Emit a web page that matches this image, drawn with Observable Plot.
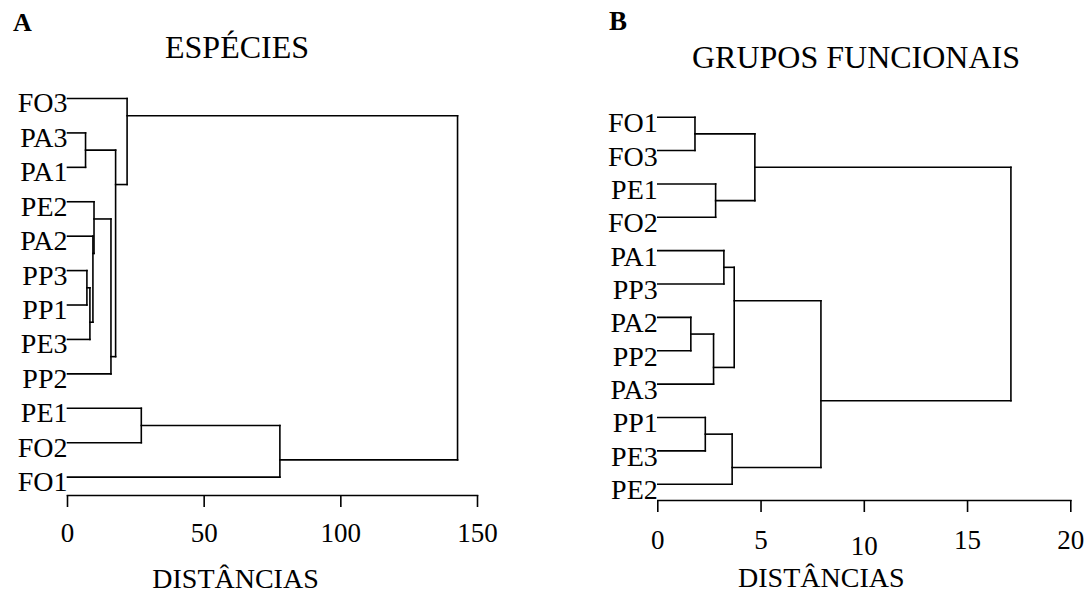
<!DOCTYPE html>
<html>
<head>
<meta charset="utf-8">
<script src="https://cdn.jsdelivr.net/npm/d3@7"></script>
<script src="https://cdn.jsdelivr.net/npm/@observablehq/plot@0.6"></script>
<style>
  html, body { margin: 0; padding: 0; background: #fff; }
  #page { position: relative; width: 1088px; height: 599px; font-family: "Liberation Serif", "Times New Roman", serif; color: #000; }
  .panel { position: absolute; top: 0; width: 544px; height: 599px; }
  .head { position: relative; height: 80px; }
  .head span { position: absolute; line-height: 1; white-space: nowrap; }
  .letter { font-weight: bold; font-size: 26px; }
  .title { font-size: 32px; transform: translateX(-50%); }
  svg { display: block; }
</style>
</head>
<body>
<div id="page">
  <div class="panel" id="panelA" style="left:0">
    <div class="head">
      <span class="letter" style="left:13px; top:10px">A</span>
      <span class="title" style="left:237px; top:31px">ESPÉCIES</span>
    </div>
  </div>
  <div class="panel" id="panelB" style="left:544px">
    <div class="head">
      <span class="letter" style="left:65px; top:8px; font-size:27px">B</span>
      <span class="title" style="left:312px; top:41px">GRUPOS FUNCIONAIS</span>
    </div>
  </div>
</div>
<script>
// Leaf order (top to bottom) and agglomeration steps: [node, left child, right child, distance]
const leavesA = ["FO3", "PA3", "PA1", "PE2", "PA2", "PP3", "PP1", "PE3", "PP2", "PE1", "FO2", "FO1"];
const mergesA = [
  ["a1", "PA3", "PA1", 6.6],
  ["a2", "PP3", "PP1", 7.1],
  ["a3", "a2", "PE3", 8.2],
  ["a4", "PA2", "a3", 9.3],
  ["a5", "PE2", "a4", 9.7],
  ["a6", "a5", "PP2", 15.9],
  ["a7", "a1", "a6", 17.6],
  ["a8", "FO3", "a7", 21.8],
  ["a9", "PE1", "FO2", 27.0],
  ["a10", "a9", "FO1", 77.7],
  ["a11", "a8", "a10", 142.7]
];
const ticksA = [0, 50, 100, 150];

const leavesB = ["FO1", "FO3", "PE1", "FO2", "PA1", "PP3", "PA2", "PP2", "PA3", "PP1", "PE3", "PE2"];
const mergesB = [
  ["b1", "FO1", "FO3", 1.8],
  ["b2", "PE1", "FO2", 2.8],
  ["b3", "b1", "b2", 4.7],
  ["b4", "PA1", "PP3", 3.2],
  ["b5", "PA2", "PP2", 1.6],
  ["b6", "b5", "PA3", 2.7],
  ["b7", "b4", "b6", 3.7],
  ["b8", "PP1", "PE3", 2.3],
  ["b9", "b8", "PE2", 3.6],
  ["b10", "b7", "b9", 7.9],
  ["b11", "b3", "b10", 17.1]
];
const ticksB = [0, 5, 10, 15, 20];

const axisTitle = "DISTÂNCIAS";

// Turn the merge list into elbow segments. Each cluster is joined at the
// boundary between its left child's last leaf and its right child's first leaf.
function dendrogram(leaves, merges) {
  const nodes = new Map();
  leaves.forEach((name, i) => nodes.set(name, {x: 0, y: i, last: i}));
  const segments = [];
  for (const [id, a, b, d] of merges) {
    const A = nodes.get(a), B = nodes.get(b);
    segments.push({x1: A.x, y1: A.y, x2: d, y2: A.y});
    segments.push({x1: B.x, y1: B.y, x2: d, y2: B.y});
    segments.push({x1: d, y1: A.y, x2: d, y2: B.y});
    nodes.set(id, {x: d, y: A.last + 0.5, last: B.last});
  }
  const labels = leaves.map((name, i) => ({name, x: 0, y: i}));
  return {segments, labels};
}

function panel({leaves, merges, ticks, marginLeft, marginRight, marginTop, marginBottom, insetBottom,
                tickSize, tickPadding, labelDy, titleDx, titleDy, extraTicks}) {
  const {segments, labels} = dendrogram(leaves, merges);
  const regular = ticks.filter(t => !(extraTicks && extraTicks.values.includes(t)));
  const marks = [
    Plot.frame({anchor: "bottom", stroke: "black", strokeWidth: 1.6}),
    Plot.axisX(regular, {tickSize, tickPadding, fontSize: 27, strokeWidth: 1.6, tickFormat: d => String(d), label: null}),
    Plot.link(segments, {x1: "x1", y1: "y1", x2: "x2", y2: "y2", stroke: "black", strokeWidth: 1.6, strokeLinecap: "square"}),
    Plot.text(labels, {x: "x", y: "y", text: "name", textAnchor: "end", fontSize: 28, dy: labelDy, fill: "black"}),
    Plot.text([axisTitle], {frameAnchor: "bottom", text: d => d, dx: titleDx, dy: titleDy, fontSize: 28, fill: "black"})
  ];
  if (extraTicks) {
    marks.push(Plot.axisX(extraTicks.values, {tickSize, tickPadding: extraTicks.tickPadding, fontSize: 27, strokeWidth: 1.6, tickFormat: d => String(d), label: null}));
  }
  return Plot.plot({
    width: 544,
    height: 519,
    marginTop, marginBottom, marginLeft, marginRight,
    insetBottom,
    x: {domain: [ticks[0], ticks[ticks.length - 1]]},
    y: {domain: [0, leaves.length - 1], reverse: true, axis: null},
    style: {fontFamily: "'Liberation Serif', 'Times New Roman', serif", color: "black", background: "white", overflow: "visible"},
    marks
  });
}

document.getElementById("panelA").append(panel({
  leaves: leavesA, merges: mergesA, ticks: ticksA,
  marginLeft: 67, marginRight: 67, marginTop: 18, marginBottom: 104, insetBottom: 18.4,
  tickSize: 12, tickPadding: 15, labelDy: 5, titleDx: -37, titleDy: 92
}));

document.getElementById("panelB").append(panel({
  leaves: leavesB, merges: mergesB, ticks: ticksB,
  marginLeft: 113.3, marginRight: 17.7, marginTop: 36.7, marginBottom: 99, insetBottom: 16.3,
  tickSize: 12, tickPadding: 17, labelDy: 6, titleDx: -43, titleDy: 86,
  extraTicks: {values: [10], tickPadding: 23}
}));
</script>
</body>
</html>
